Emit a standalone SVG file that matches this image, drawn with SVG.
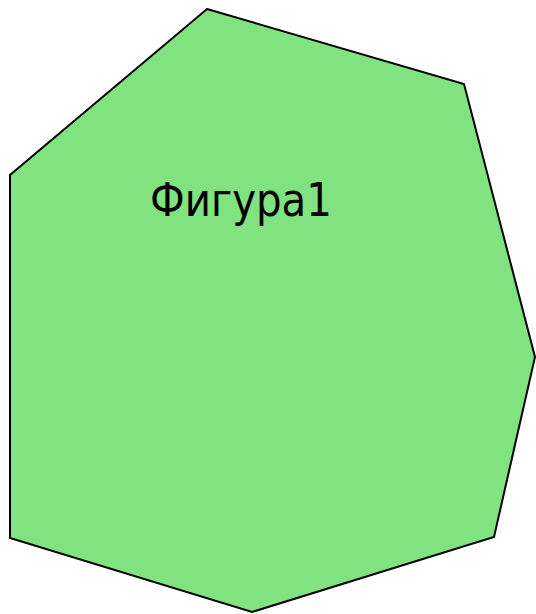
<svg xmlns="http://www.w3.org/2000/svg" width="536" height="614" viewBox="0 0 536 614">
<style>
.shape{fill:#80e380;stroke:#000;stroke-width:2;stroke-linejoin:miter}
.lbl{font-family:"DejaVu Sans",Verdana,sans-serif;font-size:46px;fill:#000}
</style>
<rect width="536" height="614" fill="#fff"/>
<g id="figura1">
<polygon class="shape" points="207,9 464,84 535,357 494,537 252,612 10,538 10,175"/>
<text class="lbl" x="150" y="216" textLength="182" lengthAdjust="spacingAndGlyphs">Фигура1</text>
</g>
</svg>
